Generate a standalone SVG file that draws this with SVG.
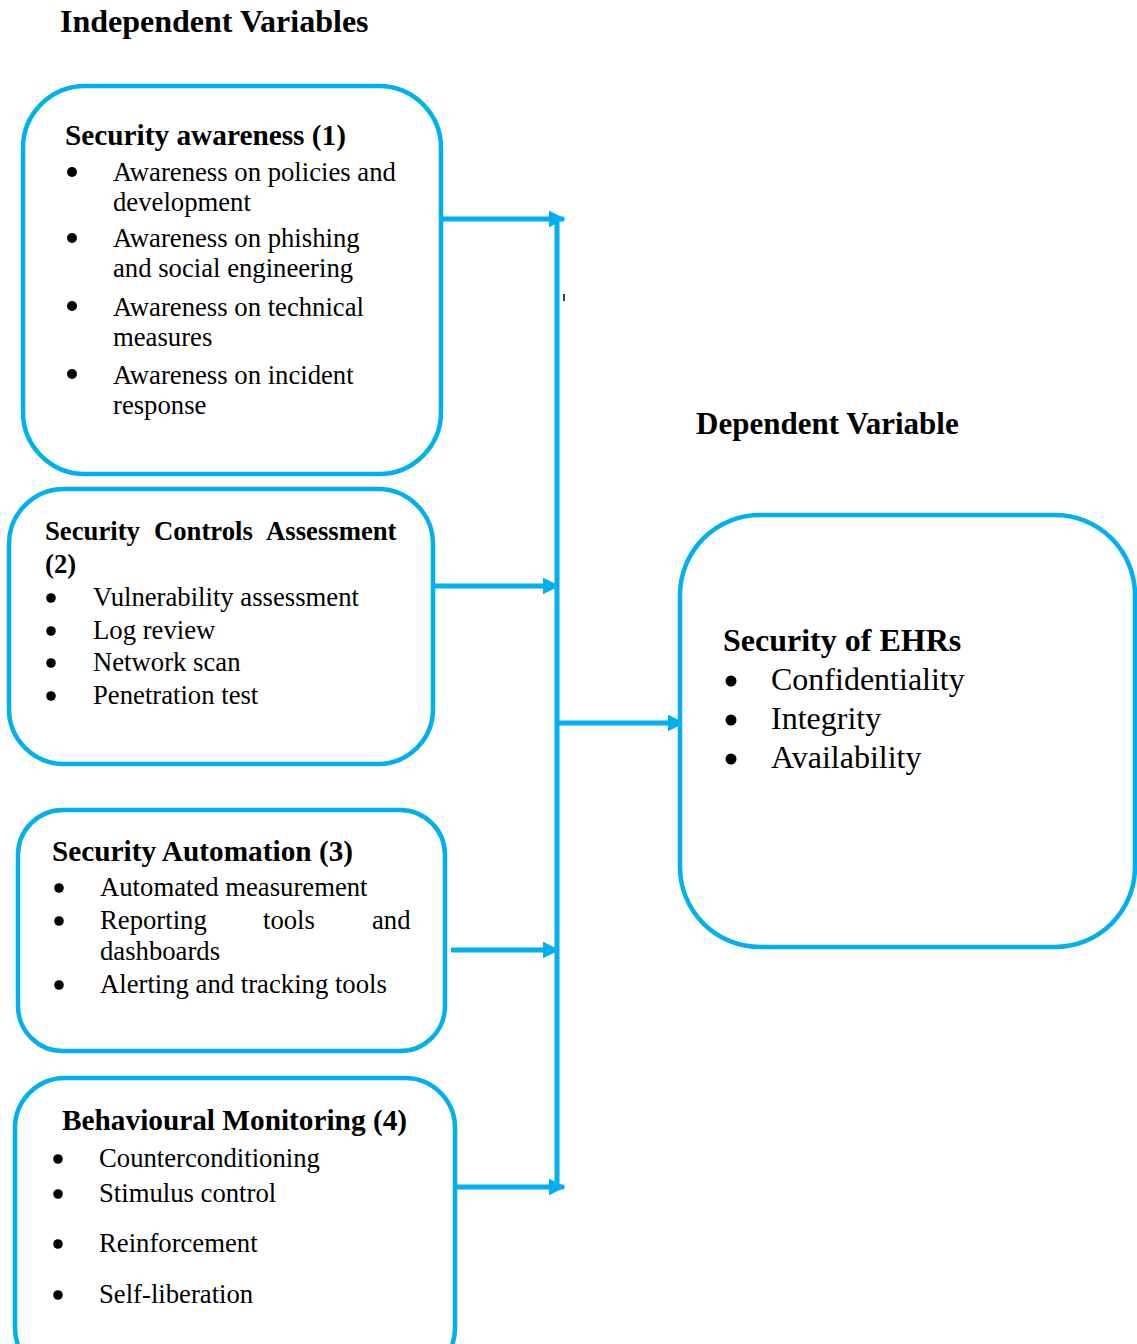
<svg xmlns="http://www.w3.org/2000/svg" width="1137" height="1344" viewBox="0 0 1137 1344">
<defs>
<style>
.box{fill:#fff;stroke:#00B0F0;stroke-width:4.5}
.con{stroke:#00B0F0;stroke-width:5;fill:none}
text{font-family:"Liberation Serif","Times New Roman",serif;fill:#000}
.h{font-weight:bold;font-size:29.3px}
.t{font-size:26.7px}
.b{fill:#000}
</style>
<marker id="ah" viewBox="0 0 10 10" refX="9" refY="5" markerWidth="3.4" markerHeight="3.4" orient="auto" markerUnits="strokeWidth">
<path d="M0,0 L10,5 L0,10 z" fill="#00B0F0"/>
</marker>
</defs>
<rect width="1137" height="1344" fill="#fff"/>
<text x="60" y="32" font-size="32" font-weight="bold">Independent Variables</text>
<text x="696" y="434" font-size="31" font-weight="bold">Dependent Variable</text>

<g id="connectors">
<line class="con" x1="557" y1="218" x2="557" y2="1189"/>
<line class="con" x1="441" y1="219" x2="564" y2="219" marker-end="url(#ah)"/>
<line class="con" x1="434" y1="586" x2="558" y2="586" marker-end="url(#ah)"/>
<line class="con" x1="557" y1="723" x2="683" y2="723" marker-end="url(#ah)"/>
<line class="con" x1="451" y1="950" x2="558" y2="950" marker-end="url(#ah)"/>
<line class="con" x1="455" y1="1187" x2="564" y2="1187" marker-end="url(#ah)"/>
<line x1="564" y1="294" x2="564" y2="301" stroke="#000" stroke-width="1.5"/>
</g>

<g id="node1">
<rect class="box" x="23" y="86" width="418" height="388" rx="62"/>
<text class="h" x="65" y="145">Security awareness (1)</text>
<g class="b">
<circle cx="72" cy="172" r="5"/><circle cx="72" cy="238" r="5"/><circle cx="72" cy="306" r="5"/><circle cx="72" cy="374" r="5"/>
</g>
<g class="t">
<text x="113" y="181">Awareness on policies and</text>
<text x="113" y="211">development</text>
<text x="113" y="247">Awareness on phishing</text>
<text x="113" y="277">and social engineering</text>
<text x="113" y="316">Awareness on technical</text>
<text x="113" y="346">measures</text>
<text x="113" y="384">Awareness on incident</text>
<text x="113" y="414">response</text>
</g>
</g>

<g id="node2">
<rect class="box" x="9" y="489" width="424" height="275" rx="55"/>
<text y="540" font-weight="bold" font-size="26.7"><tspan x="45">Security</tspan><tspan x="154">Controls</tspan><tspan x="266">Assessment</tspan></text>
<text x="45" y="573" font-weight="bold" font-size="26.7">(2)</text>
<g class="b">
<circle cx="51" cy="598" r="4.8"/><circle cx="51" cy="631" r="4.8"/><circle cx="51" cy="663" r="4.8"/><circle cx="51" cy="696" r="4.8"/>
</g>
<g class="t">
<text x="93" y="606">Vulnerability assessment</text>
<text x="93" y="639">Log review</text>
<text x="93" y="671">Network scan</text>
<text x="93" y="704">Penetration test</text>
</g>
</g>

<g id="node3">
<rect class="box" x="18" y="810" width="427" height="241" rx="45"/>
<text class="h" x="52" y="861">Security Automation (3)</text>
<g class="b">
<circle cx="59" cy="888" r="4.8"/><circle cx="59" cy="921" r="4.8"/><circle cx="59" cy="985" r="4.8"/>
</g>
<g class="t">
<text x="100" y="896">Automated measurement</text>
<text y="929"><tspan x="100">Reporting</tspan><tspan x="263">tools</tspan><tspan x="372">and</tspan></text>
<text x="100" y="960">dashboards</text>
<text x="100" y="993">Alerting and tracking tools</text>
</g>
</g>

<g id="node4">
<rect class="box" x="15" y="1078" width="440" height="300" rx="50"/>
<text class="h" x="62" y="1130">Behavioural Monitoring (4)</text>
<g class="b">
<circle cx="58" cy="1159" r="4.8"/><circle cx="58" cy="1194" r="4.8"/><circle cx="58" cy="1244" r="4.8"/><circle cx="58" cy="1295" r="4.8"/>
</g>
<g class="t">
<text x="99" y="1167">Counterconditioning</text>
<text x="99" y="1202">Stimulus control</text>
<text x="99" y="1252">Reinforcement</text>
<text x="99" y="1303">Self-liberation</text>
</g>
</g>

<g id="node5">
<rect class="box" x="680" y="515" width="455" height="432" rx="80"/>
<text x="723" y="651" font-weight="bold" font-size="32">Security of EHRs</text>
<g class="b">
<circle cx="731" cy="681" r="5.5"/><circle cx="731" cy="720" r="5.5"/><circle cx="731" cy="759" r="5.5"/>
</g>
<g font-size="32">
<text x="771" y="690">Confidentiality</text>
<text x="771" y="729">Integrity</text>
<text x="771" y="768">Availability</text>
</g>
</g>
</svg>
